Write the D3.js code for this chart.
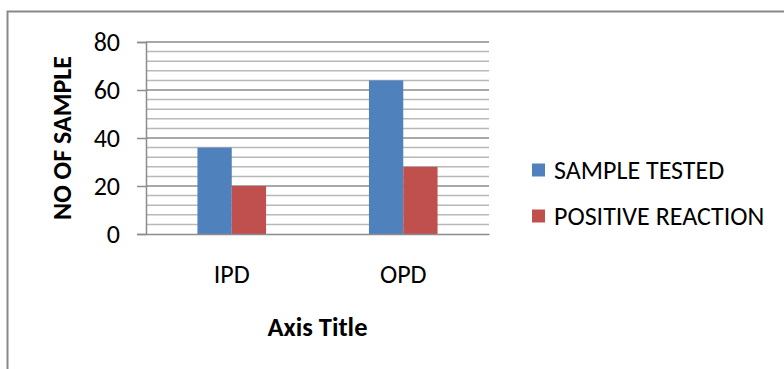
<!DOCTYPE html>
<html>
<head>
<meta charset="utf-8">
<script src="https://cdn.jsdelivr.net/npm/d3@7"></script>
<style>
  html, body { margin: 0; padding: 0; background: #fff; }
  svg { display: block; font-family: Carlito, Calibri, Lato, sans-serif; }
</style>
</head>
<body>
<svg id="chart" width="784" height="369"></svg>
<script>
// Categories and series
const categories = ["IPD", "OPD"];
const seriesNames = ["SAMPLE TESTED", "POSITIVE REACTION"];
const sampleTested = [36, 64];
const positiveReaction = [20, 28];
const yTicks = [0, 20, 40, 60, 80];
const minorTicks = d3.range(0, 81, 4);
const colors = ["#4F81BD", "#C0504D"];

const FONT = "Carlito, Calibri, Lato, sans-serif";
const svg = d3.select("#chart");
const plot = { left: 146, right: 489, top: 42, bottom: 234 };

// Chart frame
svg.append("rect")
  .attr("x", 7.5).attr("y", 11.5)
  .attr("width", 800).attr("height", 400)
  .attr("fill", "none").attr("stroke", "#898989").attr("stroke-width", 2);

const x = d3.scaleBand().domain(categories).range([plot.left, plot.right]);
const y = d3.scaleLinear().domain([0, 80]).range([plot.bottom, plot.top]);

// Minor gridlines
svg.append("g").selectAll("line")
  .data(minorTicks.filter(v => v % 20 !== 0))
  .join("line")
  .attr("x1", plot.left).attr("x2", plot.right)
  .attr("y1", d => y(d)).attr("y2", d => y(d))
  .attr("stroke", "#b8b8b8").attr("stroke-width", 1.5);

// Major gridlines
svg.append("g").selectAll("line")
  .data(yTicks.filter(v => v > 0))
  .join("line")
  .attr("x1", plot.left).attr("x2", plot.right)
  .attr("y1", d => y(d)).attr("y2", d => y(d))
  .attr("stroke", "#8c8c8c").attr("stroke-width", 1.5);

// Bars
const barW = x.bandwidth() / 5;
const series = [sampleTested, positiveReaction];
series.forEach((vals, si) => {
  svg.append("g").selectAll("rect")
    .data(categories.map((c, i) => ({ c, v: vals[i] })))
    .join("rect")
    .attr("x", d => x(d.c) + x.bandwidth() / 2 - barW + si * barW)
    .attr("y", d => y(d.v))
    .attr("width", barW)
    .attr("height", d => y(0) - y(d.v))
    .attr("fill", colors[si]);
});

// Y axis
const yAxis = d3.axisLeft(y).tickValues(yTicks).tickSize(9).tickPadding(17);
const gy = svg.append("g").attr("transform", `translate(${plot.left},0)`).call(yAxis);
gy.select(".domain").attr("stroke", "#8c8c8c").attr("stroke-width", 1.5);
gy.selectAll(".tick line").attr("stroke", "#8c8c8c").attr("stroke-width", 1.5);
gy.selectAll(".tick text").attr("font-size", 26).attr("fill", "#000")
  .attr("font-family", FONT);

// X axis
const xAxis = d3.axisBottom(x).tickSize(0).tickPadding(0);
const gx = svg.append("g").attr("transform", `translate(0,${plot.bottom})`).call(xAxis);
gx.select(".domain").attr("stroke", "#8c8c8c").attr("stroke-width", 1.5);
gx.selectAll(".tick text").attr("font-size", 26).attr("fill", "#000")
  .attr("font-family", FONT)
  .attr("dy", null).attr("y", 49);

// Axis titles
svg.append("text")
  .attr("x", (plot.left + plot.right) / 2).attr("y", 336)
  .attr("text-anchor", "middle").attr("font-size", 26.5).attr("font-weight", "bold")
  .text("Axis Title");

svg.append("text")
  .attr("transform", "translate(71,138) rotate(-90)")
  .attr("text-anchor", "middle").attr("font-size", 26).attr("font-weight", "bold")
  .text("NO OF SAMPLE");

// Legend
const legend = svg.append("g");
seriesNames.forEach((name, i) => {
  const cy = 170 + i * 46;
  legend.append("rect")
    .attr("x", 532).attr("y", cy - 6.5).attr("width", 13).attr("height", 13)
    .attr("fill", colors[i]);
  legend.append("text")
    .attr("x", 554).attr("y", cy).attr("dy", "0.35em")
    .attr("font-size", 26).text(name);
});
</script>
</body>
</html>
